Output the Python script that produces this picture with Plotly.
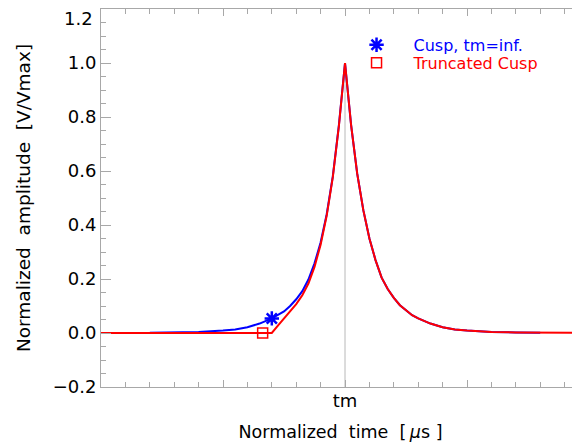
import plotly.graph_objects as go

# Normalized time in units of the major tick spacing, tm at 0
cusp_t = [-1.6, -1.4, -1.2, -1.0, -0.9, -0.8, -0.7, -0.6, -0.55, -0.5, -0.45, -0.4, -0.35,
          -0.3, -0.25, -0.2, -0.15, -0.1, -0.05, 0.0,
          0.05, 0.1, 0.15, 0.2, 0.25, 0.3, 0.35, 0.4, 0.45, 0.5, 0.55, 0.6, 0.7, 0.8,
          0.9, 1.0, 1.2, 1.4, 1.6]
cusp_v = [0.001, 0.002, 0.004, 0.009, 0.013, 0.021, 0.035, 0.054, 0.066, 0.08, 0.10, 0.125, 0.155,
          0.198, 0.258, 0.335, 0.44, 0.58, 0.77, 1.0,
          0.77, 0.59, 0.455, 0.35, 0.27, 0.205, 0.163, 0.13, 0.103, 0.083, 0.066, 0.054, 0.035, 0.021,
          0.013, 0.009, 0.004, 0.002, 0.001]

trunc_t = [-2.0, -0.6, -0.55, -0.5, -0.45, -0.4, -0.35, -0.3, -0.25, -0.2, -0.15, -0.1, -0.05, 0.0,
           0.05, 0.1, 0.15, 0.2, 0.25, 0.3, 0.35, 0.4, 0.45, 0.5, 0.55, 0.6, 0.7, 0.8,
           0.9, 1.0, 1.2, 1.4, 1.6, 2.0]
trunc_v = [0.0, 0.0, 0.027, 0.054, 0.08, 0.107, 0.14, 0.183, 0.245, 0.327, 0.435, 0.577, 0.767, 1.0,
           0.77, 0.59, 0.455, 0.35, 0.27, 0.205, 0.163, 0.13, 0.103, 0.083, 0.066, 0.054, 0.035, 0.021,
           0.013, 0.009, 0.004, 0.002, 0.001, 0.0]

star_t, star_v = [-0.6], [0.054]
square_t, square_v = [-0.675], [0.0]

tm = 0.0
x_range = [-2, 1.926]
y_range = [-0.2, 1.2]
x_tickvals = [-2, -1, 0, 1]
x_ticktext = ["", "", "tm", ""]
y_tickvals = [-0.2, 0.0, 0.2, 0.4, 0.6, 0.8, 1.0, 1.2]
y_ticktext = ["\u22120.2", "0.0", "0.2", "0.4", "0.6", "0.8", "1.0", ""]
y_top_label = "1.2"

FONT = "DejaVu Sans"
AX = "#a8a8a8"
NB = "\u00a0"

fig = go.Figure()

# vertical marker at tm, from the bottom axis up to the pulse peak
fig.add_shape(type="line", xref="x", yref="y", x0=tm, x1=tm, y0=y_range[0], y1=max(trunc_v),
              line=dict(color="#b8b8b8", width=1), layer="below")

fig.add_trace(go.Scatter(x=cusp_t, y=cusp_v, mode="lines", line=dict(color="#0000ff", width=2),
                         showlegend=False))
fig.add_trace(go.Scatter(x=trunc_t, y=trunc_v, mode="lines", line=dict(color="#ff0000", width=2),
                         showlegend=False))
fig.add_trace(go.Scatter(x=star_t, y=star_v, mode="markers", name="Cusp, tm=inf.",
                         marker=dict(symbol="asterisk-open", size=12, color="#0000ff",
                                     line=dict(color="#0000ff", width=2.5)),
                         legend="legend"))
fig.add_trace(go.Scatter(x=square_t, y=square_v, mode="markers", name="Truncated Cusp",
                         marker=dict(symbol="square-open", size=10, color="#ff0000",
                                     line=dict(color="#ff0000", width=1.5)),
                         legend="legend2"))

fig.add_annotation(x=0, y=1, xref="paper", yref="paper", xanchor="right", yanchor="top",
                   xshift=-6, yshift=3, showarrow=False, text=y_top_label,
                   font=dict(family=FONT, size=18, color="black"))

fig.update_layout(
    width=572, height=439,
    margin=dict(l=93, r=0, t=1, b=60, pad=0, autoexpand=False),
    paper_bgcolor="white", plot_bgcolor="white",
    font=dict(family=FONT, size=18, color="black"),
    legend=dict(x=0.498, y=0.905, xanchor="left", yanchor="middle", itemwidth=64,
                font=dict(family=FONT, size=16, color="#0000ff"), bgcolor="rgba(0,0,0,0)"),
    legend2=dict(x=0.498, y=0.8575, xanchor="left", yanchor="middle", itemwidth=64,
                 font=dict(family=FONT, size=16, color="#ff0000"), bgcolor="rgba(0,0,0,0)"),
    xaxis=dict(range=x_range, tickmode="array", tickvals=x_tickvals, ticktext=x_ticktext,
               ticks="inside", ticklen=7, tickcolor=AX, tickwidth=1, ticklabelstandoff=-3,
               showline=True, linecolor=AX, linewidth=1, mirror="ticks",
               showgrid=False, zeroline=False,
               minor=dict(tick0=0, dtick=0.2, ticks="inside", ticklen=5, tickcolor=AX, tickwidth=1),
               tickfont=dict(family=FONT, size=18, color="black"),
               automargin=False,
               title=dict(text=f"Normalized{NB}{NB}time{NB}{NB}[\u2009<i>µ</i>s{NB}]",
                          font=dict(family=FONT, size=17.5), standoff=16)),
    yaxis=dict(range=y_range, tickmode="array", tickvals=y_tickvals, ticktext=y_ticktext,
               ticks="inside", ticklen=10, tickcolor=AX, tickwidth=1,
               showline=True, linecolor=AX, linewidth=1,
               showgrid=False, zeroline=False,
               minor=dict(tick0=0, dtick=0.05, ticks="inside", ticklen=5, tickcolor=AX, tickwidth=1),
               tickfont=dict(family=FONT, size=18, color="black"),
               automargin=False,
               title=dict(text=f"Normalized{NB}{NB}amplitude{NB}{NB}[V/Vmax]",
                          font=dict(family=FONT, size=18.5), standoff=17)),
)

fig.write_html("out.html")
